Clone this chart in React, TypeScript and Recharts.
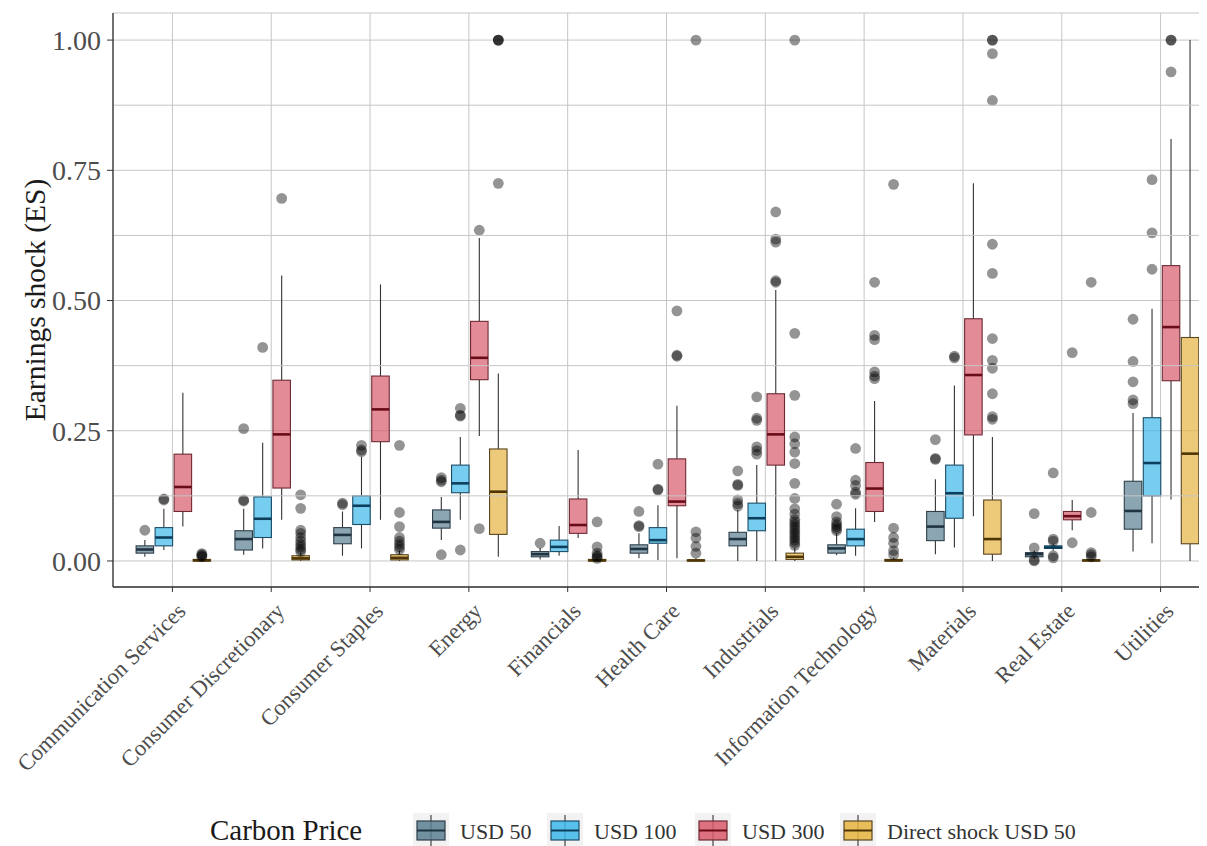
import { ComposedChart, Bar, XAxis, YAxis, CartesianGrid, ReferenceLine, Legend } from "recharts";

const sectors = [
  "Communication Services",
  "Consumer Discretionary",
  "Consumer Staples",
  "Energy",
  "Financials",
  "Health Care",
  "Industrials",
  "Information Technology",
  "Materials",
  "Real Estate",
  "Utilities",
];

// per sector: [lower whisker, q1, median, q3, upper whisker]
const usd50Box = [
  [0.008, 0.015, 0.022, 0.029, 0.04],
  [0.012, 0.021, 0.042, 0.058, 0.1],
  [0.01, 0.033, 0.05, 0.064, 0.095],
  [0.04, 0.063, 0.075, 0.098, 0.123],
  [0.003, 0.008, 0.013, 0.018, 0.025],
  [0.005, 0.015, 0.023, 0.031, 0.053],
  [0, 0.029, 0.042, 0.055, 0.098],
  [0.011, 0.015, 0.024, 0.031, 0.053],
  [0.013, 0.039, 0.066, 0.095, 0.157],
  [0.004, 0.008, 0.013, 0.016, 0.02],
  [0.018, 0.061, 0.096, 0.153, 0.284],
];
const usd50Out = [
  [0.059],
  [0.117, 0.115, 0.254],
  [0.111, 0.108],
  [0.012, 0.155, 0.16, 0.152],
  [0.034],
  [0.068, 0.066, 0.095],
  [0.105, 0.11, 0.117, 0.145, 0.147, 0.173],
  [0.058, 0.062, 0.066, 0.07, 0.075, 0.085, 0.109],
  [0.195, 0.197, 0.233],
  [0.0, 0.002, 0.025, 0.091],
  [0.302, 0.309, 0.344, 0.383, 0.464],
];

const usd100Box = [
  [0.021, 0.029, 0.045, 0.064, 0.1],
  [0.024, 0.045, 0.081, 0.123, 0.227],
  [0.024, 0.07, 0.106, 0.125, 0.2],
  [0.079, 0.131, 0.149, 0.184, 0.238],
  [0.01, 0.018, 0.027, 0.04, 0.067],
  [0.002, 0.034, 0.04, 0.064, 0.107],
  [0, 0.058, 0.082, 0.111, 0.184],
  [0.01, 0.029, 0.042, 0.061, 0.101],
  [0.026, 0.082, 0.13, 0.184, 0.337],
  [0.02, 0.024, 0.026, 0.029, 0.033],
  [0.034, 0.125, 0.188, 0.275, 0.484],
];
const usd100Out = [
  [0.119, 0.117],
  [0.41],
  [0.21, 0.213, 0.222],
  [0.021, 0.278, 0.28, 0.293],
  [],
  [0.136, 0.138, 0.186],
  [0.205, 0.212, 0.219, 0.27, 0.274, 0.315],
  [0.128, 0.132, 0.145, 0.155, 0.216],
  [0.39, 0.393],
  [0.006, 0.01, 0.038, 0.042, 0.169],
  [0.56, 0.63, 0.732],
];

const usd300Box = [
  [0.066, 0.095, 0.142, 0.205, 0.323],
  [0.079, 0.14, 0.243, 0.347, 0.548],
  [0.079, 0.229, 0.291, 0.355, 0.531],
  [0.24, 0.348, 0.39, 0.46, 0.62],
  [0.044, 0.053, 0.069, 0.119, 0.213],
  [0.005, 0.106, 0.114, 0.196, 0.298],
  [0, 0.184, 0.243, 0.321, 0.52],
  [0.075, 0.095, 0.139, 0.189, 0.307],
  [0.086, 0.242, 0.357, 0.465, 0.725],
  [0.059, 0.079, 0.086, 0.095, 0.117],
  [0.118, 0.346, 0.449, 0.567, 0.81],
];
const usd300Out = [
  [],
  [0.696],
  [],
  [0.062, 0.635],
  [],
  [0.393, 0.395, 0.48],
  [0.535, 0.538, 0.612, 0.618, 0.67],
  [0.35, 0.355, 0.363, 0.425, 0.433, 0.535],
  [],
  [0.035, 0.4],
  [0.939, 1.0, 1.0],
];

const directBox = [
  [0, 0, 0.001, 0.003, 0.006],
  [0, 0.002, 0.005, 0.01, 0.016],
  [0, 0.002, 0.006, 0.012, 0.02],
  [0.008, 0.051, 0.133, 0.215, 0.36],
  [0, 0, 0.001, 0.003, 0.006],
  [0, 0, 0.001, 0.002, 0.005],
  [0, 0.003, 0.008, 0.015, 0.025],
  [0, 0, 0.001, 0.003, 0.006],
  [0, 0.013, 0.042, 0.117, 0.238],
  [0, 0, 0.001, 0.002, 0.004],
  [0, 0.033, 0.206, 0.429, 1.0],
];
const directOut = [
  [0.008, 0.01, 0.012, 0.014],
  [0.018, 0.022, 0.027, 0.032, 0.038, 0.045, 0.053, 0.059, 0.101, 0.127],
  [0.022, 0.027, 0.032, 0.038, 0.045, 0.066, 0.093, 0.222],
  [0.725, 1.0, 1.0, 1.0],
  [0.005, 0.008, 0.01, 0.015, 0.027, 0.075],
  [0.015, 0.028, 0.044, 0.056, 1.0],
  [0.03, 0.035, 0.04, 0.045, 0.05, 0.055, 0.06, 0.065, 0.07, 0.075, 0.08, 0.09, 0.1, 0.12, 0.149, 0.187, 0.209, 0.225, 0.238, 0.318, 0.437, 1.0],
  [0.012, 0.02, 0.034, 0.045, 0.063, 0.723],
  [0.272, 0.277, 0.321, 0.37, 0.385, 0.427, 0.552, 0.608, 0.884, 0.974, 1.0, 1.0],
  [0.008, 0.012, 0.016, 0.093, 0.535],
  [],
];

const yTicks = [0, 0.25, 0.5, 0.75, 1];
const yMinor = [0.125, 0.375, 0.625, 0.875];

const series = [
  { key: "usd50", name: "USD 50", box: usd50Box, out: usd50Out, fill: "#5B7F92", edge: "#2E3F49", median: "#1F3440" },
  { key: "usd100", name: "USD 100", box: usd100Box, out: usd100Out, fill: "#3DB8EA", edge: "#1C4D66", median: "#0D3F5C" },
  { key: "usd300", name: "USD 300", box: usd300Box, out: usd300Out, fill: "#D95A6C", edge: "#6E2A34", median: "#6A0C18" },
  { key: "direct", name: "Direct shock USD 50", box: directBox, out: directOut, fill: "#E6B440", edge: "#5A4620", median: "#4F3606" },
];

type Series = (typeof series)[number];

const rows = sectors.map((sector, i) => {
  const row: any = { sector };
  series.forEach((s) => {
    const [lo, q1, med, q3, hi] = s.box[i];
    const pts = s.out[i];
    row[s.key] = {
      lo, q1, med, q3, hi, out: pts,
      // bar spans everything drawn for this box, so the shape can map values to pixels
      range: [Math.min(lo, ...pts) - 0.01, Math.max(hi, ...pts) + 0.01],
    };
  });
  return row;
});

const FONT = "'Liberation Serif', 'Times New Roman', serif";
const GRID = "#C6C6C6";

const makeBoxShape = (s: Series) => (props: any) => {
  const { x, y, width, height, payload } = props;
  const d = payload[s.key];
  const [lo, hi] = d.range;
  const top = Math.min(y, y + height);
  const k = Math.abs(height) / (hi - lo);
  const py = (v: number) => top + (hi - v) * k;
  const cx = x + width / 2;
  const bw = width - 1.5;
  const bx = cx - bw / 2;
  return (
    <g>
      <line x1={cx} x2={cx} y1={py(d.hi)} y2={py(d.q3)} stroke="#333" strokeWidth={1.1} />
      <line x1={cx} x2={cx} y1={py(d.q1)} y2={py(d.lo)} stroke="#333" strokeWidth={1.1} />
      <rect
        x={bx}
        y={py(d.q3)}
        width={bw}
        height={Math.max(py(d.q1) - py(d.q3), 0.5)}
        fill={s.fill}
        fillOpacity={0.7}
        stroke={s.edge}
        strokeWidth={1.1}
      />
      <line x1={bx} x2={bx + bw} y1={py(d.med)} y2={py(d.med)} stroke={s.median} strokeWidth={2.6} />
      {d.out.map((v: number, j: number) => (
        <circle key={j} cx={cx} cy={py(v)} r={5.4} fill="#000" fillOpacity={0.42} />
      ))}
    </g>
  );
};

const SectorTick = ({ x, y, payload }: any) => {
  const ax = x + 3;
  const ay = y + 7;
  return (
    <text
      x={ax}
      y={ay}
      transform={`rotate(-45 ${ax} ${ay})`}
      textAnchor="end"
      dy="0.72em"
      fontFamily={FONT}
      fontSize={22.5}
      fill="#4D4D4D"
    >
      {payload.value}
    </text>
  );
};

const YTitle = ({ viewBox }: any) => {
  const cx = viewBox.x + 27;
  const cy = viewBox.y + viewBox.height / 2;
  return (
    <text
      x={cx}
      y={cy}
      transform={`rotate(-90 ${cx} ${cy})`}
      textAnchor="middle"
      dominantBaseline="central"
      fontFamily={FONT}
      fontSize={29.5}
      fill="#1A1A1A"
    >
      Earnings shock (ES)
    </text>
  );
};

const keyX = [405, 539, 687, 832];

const LegendKey = ({ s, x }: { s: Series; x: number }) => (
  <g>
    <rect x={x} y={0} width={36} height={33} fill="#F2F2F2" />
    <line x1={x + 18} x2={x + 18} y1={2} y2={33} stroke="#333" strokeWidth={1.1} />
    <rect x={x + 4} y={8} width={28} height={19} fill={s.fill} fillOpacity={0.85} stroke={s.edge} strokeWidth={1.2} />
    <line x1={x + 4} x2={x + 32} y1={17.5} y2={17.5} stroke={s.median} strokeWidth={2} />
    <text x={x + 47} y={26} fontFamily={FONT} fontSize={22} fill="#333">
      {s.name}
    </text>
  </g>
);

const CarbonLegend = () => (
  <svg width={1212} height={33} style={{ display: "block" }}>
    <text x={202} y={27} fontFamily={FONT} fontSize={29} fill="#1A1A1A">
      Carbon Price
    </text>
    {series.map((s, i) => (
      <LegendKey key={s.key} s={s} x={keyX[i]} />
    ))}
  </svg>
);

export default function App() {
  return (
    <div style={{ width: 1199, height: 838, overflow: "hidden", background: "#fff" }}>
      <ComposedChart
        width={1212}
        height={838}
        data={rows}
        margin={{ top: 5, right: 0, left: 0, bottom: 0 }}
        barCategoryGap="12.5%"
        barGap={0}
      >
        <CartesianGrid stroke={GRID} strokeWidth={1} />
        {yMinor.map((v) => (
          <ReferenceLine key={v} y={v} stroke={GRID} strokeWidth={1} />
        ))}
        <XAxis
          dataKey="sector"
          type="category"
          interval={0}
          padding={{ left: 10, right: 10 }}
          height={259}
          tick={<SectorTick />}
          tickSize={5}
          tickLine={{ stroke: "#333" }}
          axisLine={{ stroke: "#333", strokeWidth: 1.3 }}
        />
        <YAxis
          type="number"
          domain={[-0.05, 1.052]}
          allowDataOverflow
          ticks={yTicks}
          tickFormatter={(v: number) => v.toFixed(2)}
          width={105}
          tickSize={6}
          tickMargin={6}
          tick={{ fontFamily: FONT, fontSize: 28, fill: "#4D4D4D" }}
          tickLine={{ stroke: "#333" }}
          axisLine={{ stroke: "#333", strokeWidth: 1.3 }}
          label={{ content: <YTitle /> }}
        />
        {series.map((s) => (
          <Bar
            key={s.key}
            name={s.name}
            dataKey={(row: any) => row[s.key].range}
            fill={s.fill}
            shape={makeBoxShape(s)}
            isAnimationActive={false}
          />
        ))}
        <Legend
          layout="horizontal"
          verticalAlign="middle"
          align="center"
          wrapperStyle={{ left: 0, top: 805, width: 1212, height: 33 }}
          content={() => <CarbonLegend />}
        />
      </ComposedChart>
    </div>
  );
}
